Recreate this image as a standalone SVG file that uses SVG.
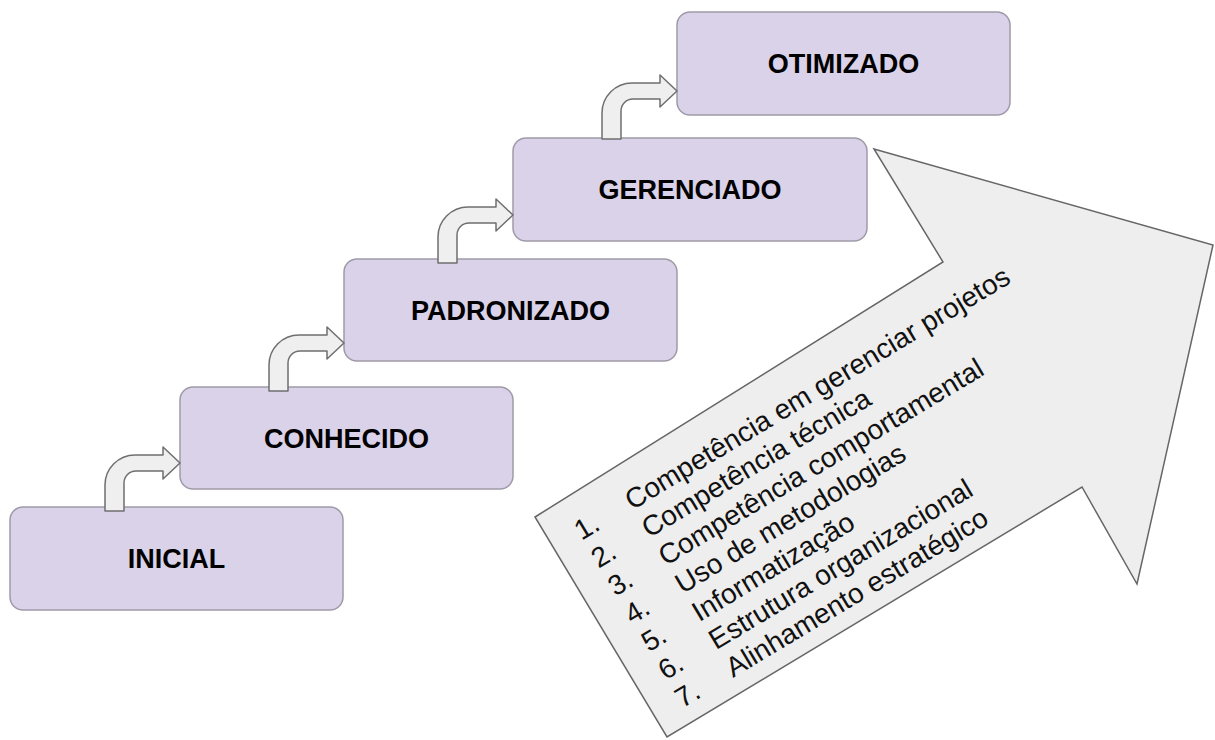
<svg xmlns="http://www.w3.org/2000/svg" width="1215" height="740" viewBox="0 0 1215 740">
<style>
.box{fill:#d9d2e9;stroke:#a09aa8;stroke-width:1.5}
.lbl{font-family:"Liberation Sans",Arial,sans-serif;font-weight:bold;font-size:27px;fill:#000;text-anchor:middle}
.bent{fill:#efefef;stroke:#6f6f6f;stroke-width:1.5;stroke-linejoin:round}
.big{fill:#eeeeee;stroke:#666;stroke-width:1.5;stroke-linejoin:miter}
.item{font-family:"Liberation Sans",Arial,sans-serif;font-size:28px;fill:#111}
</style>
<rect width="1215" height="740" fill="#fff"/>
<g id="big-arrow">
<polygon class="big" points="535,517 943,262 874,149 1213,245 1137,584 1082,487 667,737"/>
<g transform="translate(581.6,540.8) rotate(-31)">
<text class="item" x="0" y="0">1.</text>
<text class="item" x="0" y="32.6">2.</text>
<text class="item" x="0" y="65.2">3.</text>
<text class="item" x="0" y="97.8">4.</text>
<text class="item" x="0" y="130.4">5.</text>
<text class="item" x="0" y="163">6.</text>
<text class="item" x="0" y="195.6">7.</text>
<text class="item" x="59" y="0">Competência em gerenciar projetos</text>
<text class="item" x="59" y="32.6">Competência técnica</text>
<text class="item" x="59" y="65.2">Competência comportamental</text>
<text class="item" x="59" y="97.8">Uso de metodologias</text>
<text class="item" x="59" y="130.4">Informatização</text>
<text class="item" x="59" y="163">Estrutura organizacional</text>
<text class="item" x="59" y="195.6">Alinhamento estratégico</text>
</g>
</g>
<g id="inicial"><rect class="box" x="10" y="507" width="333" height="103" rx="13"/><text class="lbl" x="176.5" y="568">INICIAL</text></g>
<g id="conhecido"><rect class="box" x="180" y="387" width="333" height="102" rx="13"/><text class="lbl" x="346.5" y="448">CONHECIDO</text></g>
<g id="padronizado"><rect class="box" x="344" y="259" width="333" height="102" rx="13"/><text class="lbl" x="510.5" y="320">PADRONIZADO</text></g>
<g id="gerenciado"><rect class="box" x="513" y="138" width="354" height="103" rx="13"/><text class="lbl" x="690" y="199">GERENCIADO</text></g>
<g id="otimizado"><rect class="box" x="677" y="12" width="333" height="103" rx="13"/><text class="lbl" x="843.5" y="73">OTIMIZADO</text></g>
<g id="connectors">
<path class="bent" d="M105,511 L105,485 A30,30 0 0 1 135,455 L163,455 L163,447 L180,463 L163,479 L163,471 L136,471 A12,12 0 0 0 124,483 L124,511 Z"/>
<path class="bent" d="M269,391 L269,365 A30,30 0 0 1 299,335 L327,335 L327,327 L344,343 L327,359 L327,351 L300,351 A12,12 0 0 0 288,363 L288,391 Z"/>
<path class="bent" d="M438,263 L438,237 A30,30 0 0 1 468,207 L496,207 L496,199 L513,215 L496,231 L496,223 L469,223 A12,12 0 0 0 457,235 L457,263 Z"/>
<path class="bent" d="M602,139 L602,113 A30,30 0 0 1 632,83 L660,83 L660,75 L677,91 L660,107 L660,99 L633,99 A12,12 0 0 0 621,111 L621,139 Z"/>
</g>
</svg>
